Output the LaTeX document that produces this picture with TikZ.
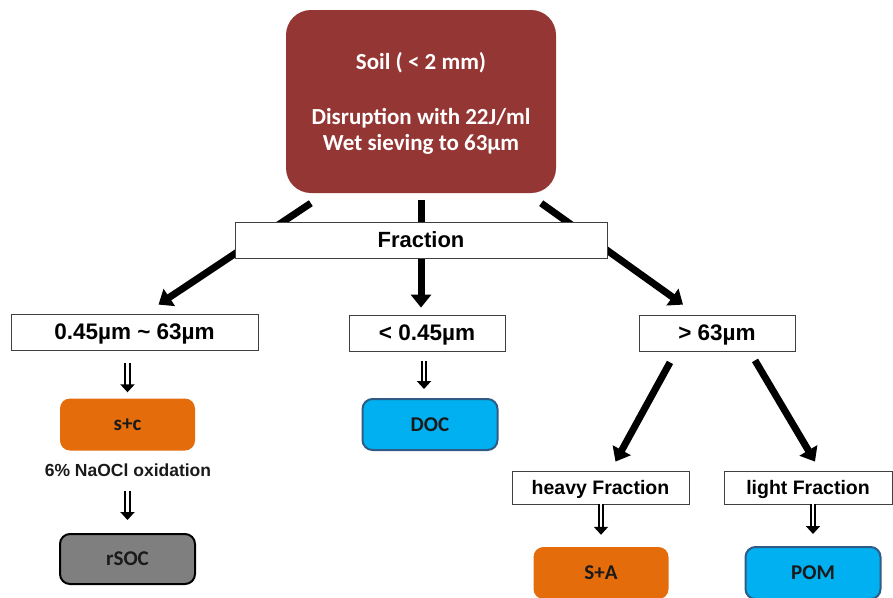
\documentclass[tikz,border=0pt]{standalone}
\usepackage{fontspec}
\setmainfont{Carlito}
\newfontfamily\arialfont{Liberation Sans}
\usetikzlibrary{arrows.meta}
\definecolor{soilred}{HTML}{943634}
\definecolor{sandorange}{HTML}{E46C0A}
\definecolor{docblue}{HTML}{00B0F0}
\definecolor{docedge}{HTML}{2F5B86}
\definecolor{rsocgray}{HTML}{7F7F7F}
\definecolor{boxedge}{HTML}{404040}
\definecolor{labeltext}{HTML}{1A1A1A}

\begin{document}
\begin{tikzpicture}[x=1pt, y=-1pt,
    fracbox/.style={draw=boxedge, line width=0.8pt, fill=white, inner sep=0pt, text depth=0pt,
      font=\arialfont\bfseries\fontsize{22.5}{24}\selectfont},
    poolbox/.style={rounded corners=10pt, minimum width=135pt, minimum height=52pt,
      inner sep=0pt, text=labeltext, font=\bfseries\fontsize{21}{24}\selectfont},
    bigarrow/.style={line width=7pt, -{Triangle[length=13pt,width=20pt]}},
    smallarrow/.style={double=white, double distance=2.4pt, line width=2pt,
      -{Triangle[length=8pt,width=14pt]}}]
  \useasboundingbox (0,0) rectangle (893,597);
  % Soil sample
  \node[fill=soilred, rounded corners=25pt, minimum width=270pt, minimum height=183pt,
    text=white, align=center, text depth=0pt, font=\bfseries\fontsize{23}{26}\selectfont] (soil) at (421,101.5)
    {Soil ( < 2 mm)\\[29pt]Disruption with 22J/ml\\Wet sieving to 63µm};
  % Size ranges
  \node[fracbox, minimum width=247pt, minimum height=36pt] (mid) at (134.5,332) {0.45µm \textasciitilde{} 63µm};
  \node[fracbox, minimum width=156pt, minimum height=36pt] (fine) at (427,333) {< 0.45µm};
  \node[fracbox, minimum width=156pt, minimum height=36pt] (coarse) at (717,333) {> 63µm};
  % Arrows out of the soil box
  \draw[bigarrow] ([xshift=25pt,yshift=-10pt]soil.south west) -- ([xshift=24pt,yshift=9pt]mid.north);
  \draw[bigarrow] ([yshift=-7pt]soil.south) -- ([yshift=7pt]soil.south |- fine.north);
  \draw[bigarrow] ([xshift=-15pt,yshift=-10pt]soil.south east) -- ([xshift=-34pt,yshift=10pt]coarse.north);
  \node[fracbox, font=\arialfont\bfseries\fontsize{22}{24}\selectfont, minimum width=372pt, minimum height=36pt] (frac) at (421,240) {Fraction};
  % Left branch
  \node[poolbox, fill=sandorange] (sc) at (127.5,424.5) {s+c};
  \node[font=\arialfont\bfseries\fontsize{17.5}{18}\selectfont, text=labeltext, inner sep=0pt] (ox) at (128,470) {6\% NaOCl oxidation};
  \node[poolbox, fill=rsocgray, draw=black, line width=2pt, minimum height=50pt] (rsoc) at (127.5,559) {rSOC};
  \draw[smallarrow] ([yshift=-13pt]sc.north |- mid.south) -- ([yshift=6pt]sc.north);
  \draw[smallarrow] ([yshift=-14pt]rsoc.north |- ox.south) -- ([yshift=13pt]rsoc.north);
  % Middle branch
  \node[poolbox, fill=docblue, draw=docedge, line width=2pt, minimum height=51pt] (doc) at (430,424.5) {DOC};
  \draw[smallarrow] ([xshift=-6pt,yshift=-10pt]doc.north |- fine.south) -- ([xshift=-6pt,yshift=9pt]doc.north);
  % Right branch
  \node[fracbox, font=\arialfont\bfseries\fontsize{19.5}{20}\selectfont, minimum width=177pt, minimum height=33pt] (heavy) at (600.5,487.5) {heavy Fraction};
  \node[fracbox, font=\arialfont\bfseries\fontsize{19.5}{20}\selectfont, minimum width=168pt, minimum height=33pt] (light) at (808,487.5) {light Fraction};
  \draw[bigarrow] ([xshift=-47pt,yshift=-11pt]coarse.south) -- ([xshift=15pt,yshift=9pt]heavy.north);
  \draw[bigarrow] ([xshift=38pt,yshift=-9pt]coarse.south) -- ([xshift=7pt,yshift=9pt]light.north);
  \node[poolbox, fill=sandorange] (sa) at (601,573) {S+A};
  \node[poolbox, fill=docblue, draw=docedge, line width=2pt] (pom) at (813,573) {POM};
  \draw[smallarrow] (sa.north |- heavy.south) -- ([yshift=12pt]sa.north);
  \draw[smallarrow] (pom.north |- light.south) -- ([yshift=12pt]pom.north);
\end{tikzpicture}
\end{document}
